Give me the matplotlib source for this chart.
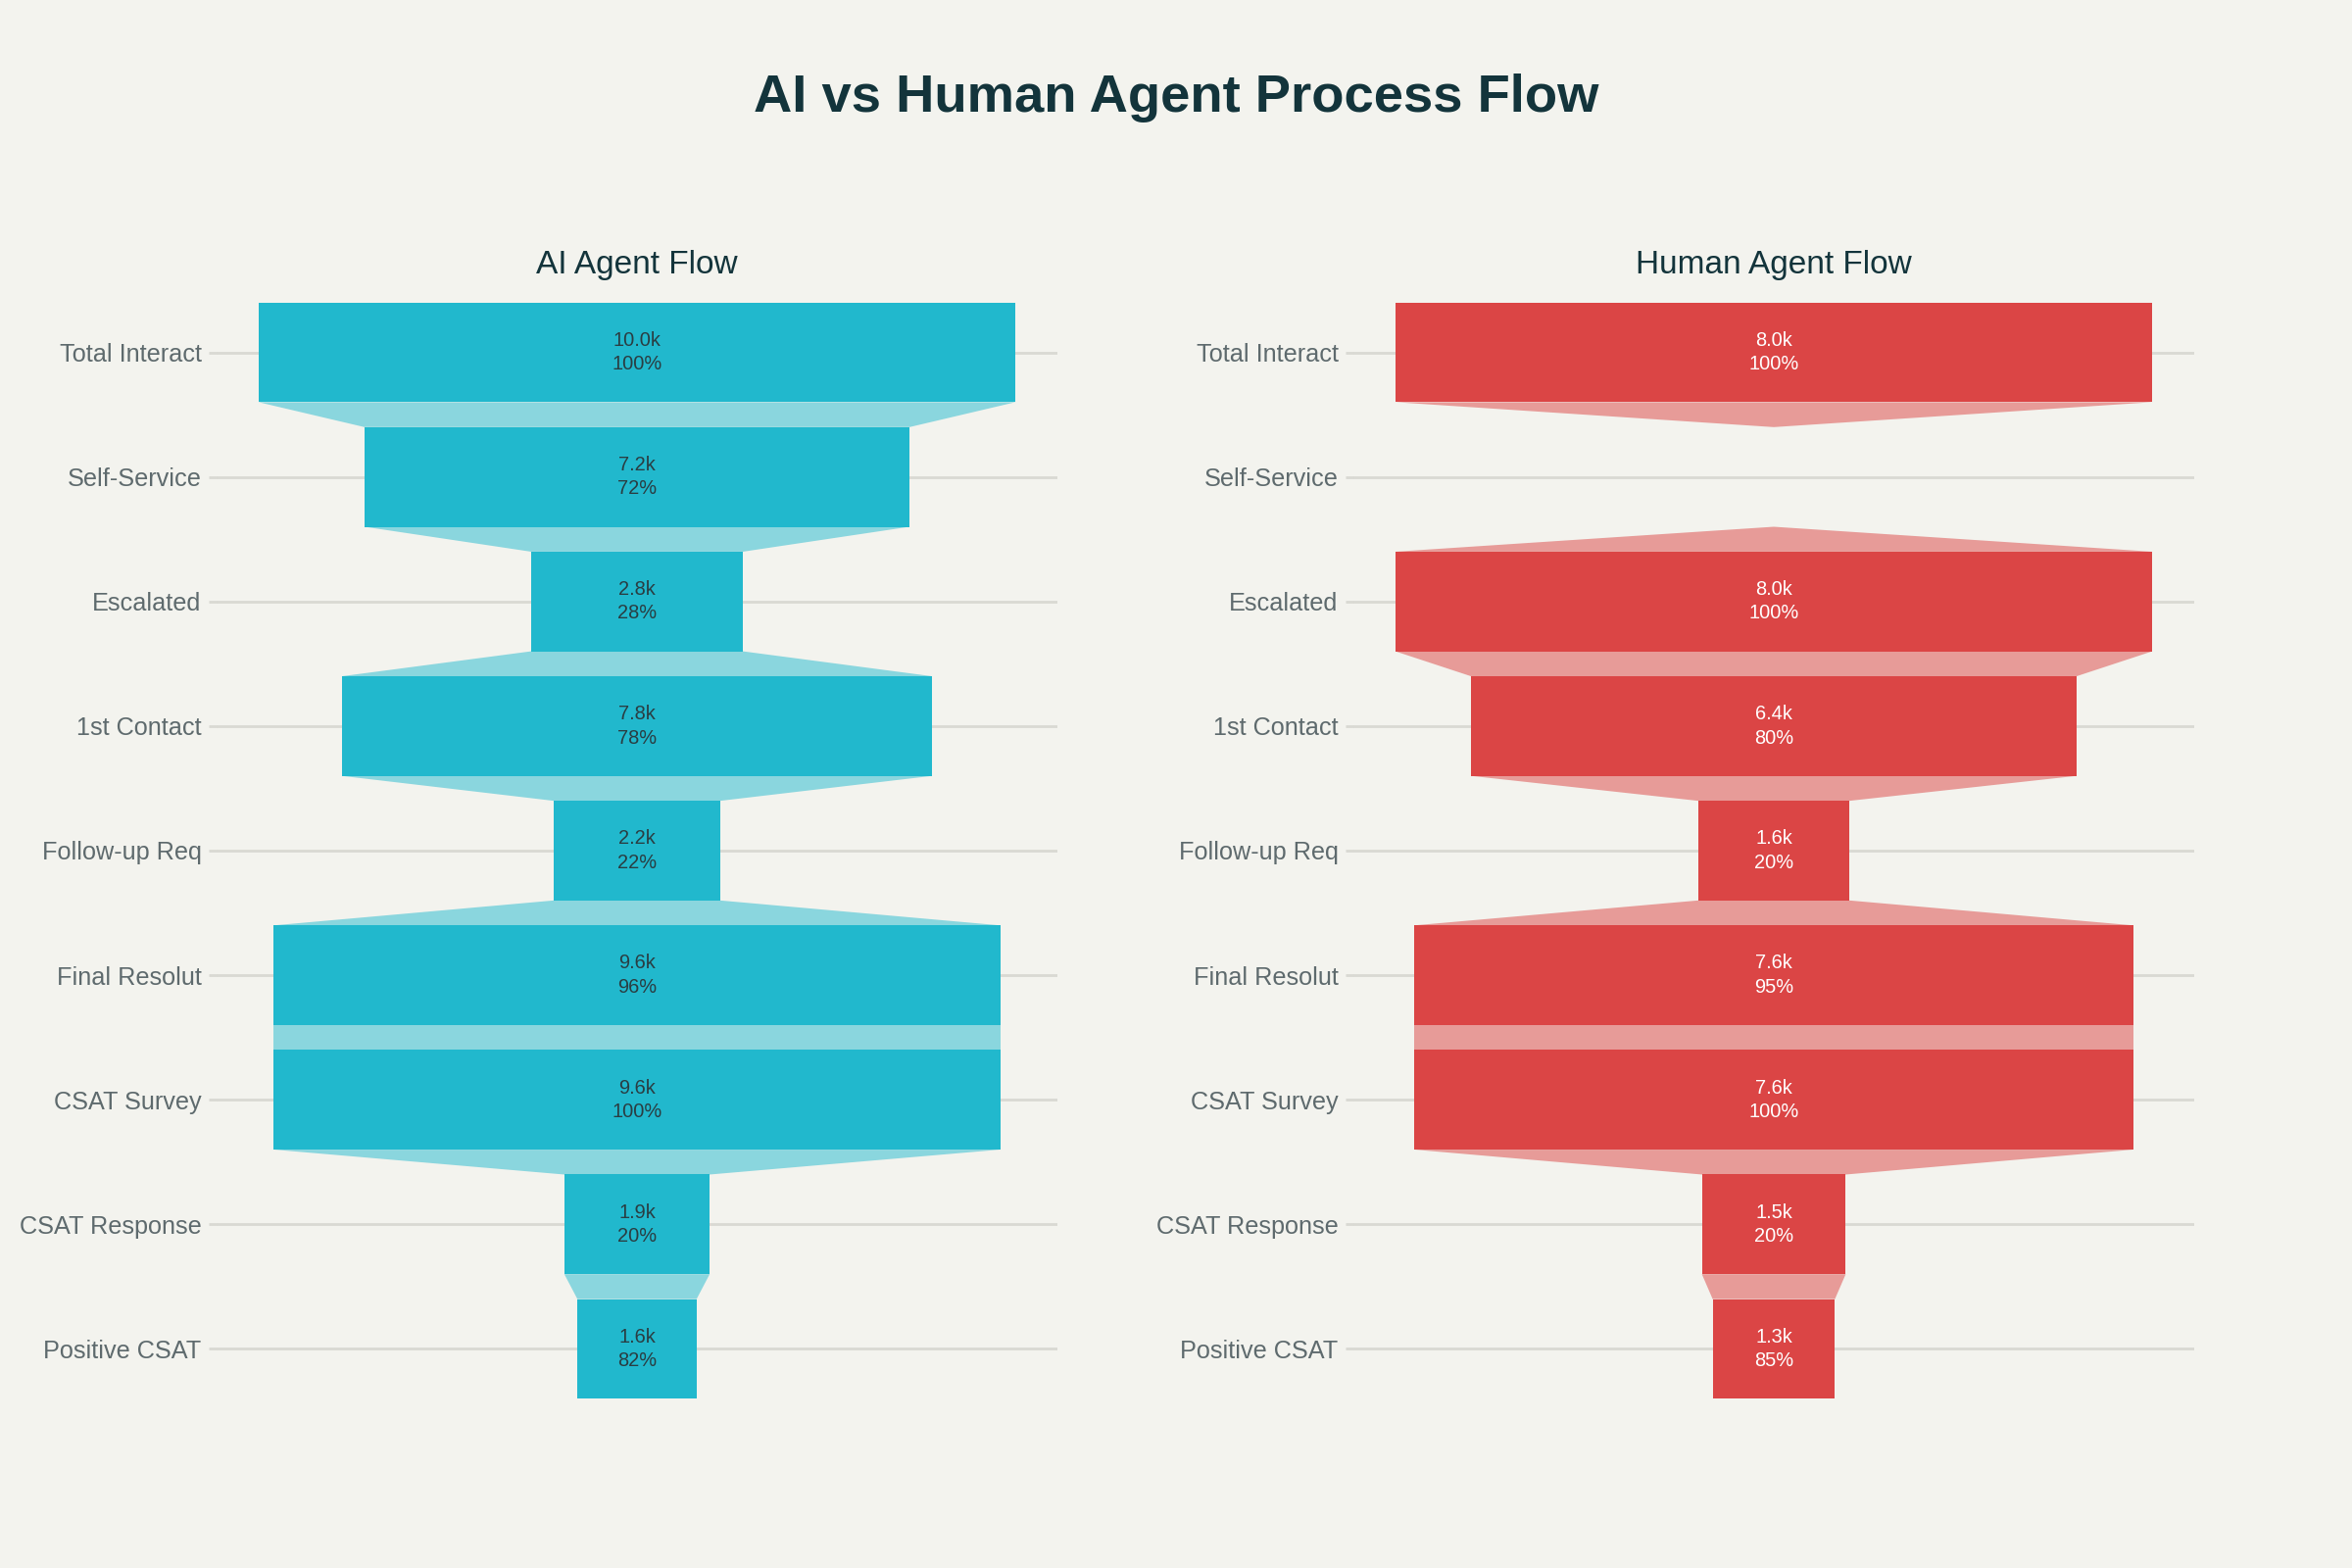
import matplotlib
matplotlib.use("Agg")
import matplotlib.pyplot as plt
from matplotlib.patches import Polygon, Rectangle

plt.rcParams['font.family'] = ['Liberation Sans', 'DejaVu Sans']

stages = ["Total Interact", "Self-Service", "Escalated", "1st Contact", "Follow-up Req",
          "Final Resolut", "CSAT Survey", "CSAT Response", "Positive CSAT"]
ai_values = [10000, 7200, 2800, 7800, 2200, 9600, 9600, 1920, 1574]
ai_pct = [100, 72, 28, 78, 22, 96, 100, 20, 82]
human_values = [8000, 0, 8000, 6400, 1600, 7600, 7600, 1520, 1292]
human_pct = [100, None, 100, 80, 20, 95, 100, 20, 85]

title = "AI vs Human Agent Process Flow"
panel_titles = ["AI Agent Flow", "Human Agent Flow"]

BG = "#F3F3EE"
GRID = "#D9D9D3"
DARK = "#13343B"
LABEL = "#5E6A6D"
colors = ["#21B8CD", "#DB4545"]
conn_colors = ["#8AD6DE", "#E79B98"]
text_colors = ["#2A3D42", "#FFFFFF"]

fig = plt.figure(figsize=(12, 8), dpi=200, facecolor=BG)
W, H = 2400, 1600
axes_px = [(221, 1079), (1381, 2239)]
top_px, bot_px = 296, 1440

fig.text(0.5, 1 - 100 / H, title, ha="center", va="center", fontsize=19.6,
         fontweight="bold", color=DARK)

bar_h = 0.8
for k, (vals, pcts) in enumerate([(ai_values, ai_pct), (human_values, human_pct)]):
    x0, x1 = axes_px[k]
    ax = fig.add_axes([x0 / W, 1 - bot_px / H, (x1 - x0) / W, (bot_px - top_px) / H])
    ax.set_facecolor(BG)
    vmax = max(vals)
    lim = vmax * 1.111
    ax.set_xlim(-lim / 2, lim / 2)
    n = len(stages)
    ax.set_ylim(n - 0.5, -0.5)
    for i in range(n):
        ax.axhline(i, color=GRID, lw=1.0, zorder=0)
    for i, v in enumerate(vals):
        if v > 0:
            ax.add_patch(Rectangle((-v / 2, i - bar_h / 2), v, bar_h,
                                   facecolor=colors[k], edgecolor="none", zorder=2))
        if i < n - 1:
            v2 = vals[i + 1]
            yt = i + bar_h / 2
            yb = i + 1 - bar_h / 2
            poly = Polygon([(-v / 2, yt), (v / 2, yt), (v2 / 2, yb), (-v2 / 2, yb)],
                           closed=True, facecolor=conn_colors[k], edgecolor="none", zorder=1)
            ax.add_patch(poly)
        if v > 0 and pcts[i] is not None:
            ax.text(0, i, f"{v / 1000:.1f}k\n{pcts[i]}%", ha="center", va="center",
                    fontsize=7.2, color=text_colors[k], linespacing=1.35, zorder=3)
    ax.set_yticks(range(n))
    ax.set_yticklabels(stages, fontsize=9.1, color=LABEL)
    ax.tick_params(axis="y", length=3, color=GRID, pad=2.5, width=1.0)
    ax.set_xticks([])
    for s in ax.spines.values():
        s.set_visible(False)
    fig.text((x0 + x1) / 2 / W, 1 - 271 / H, panel_titles[k], ha="center", va="center",
             fontsize=12, color=DARK)

fig.savefig("out.png", dpi=200, facecolor=BG)
